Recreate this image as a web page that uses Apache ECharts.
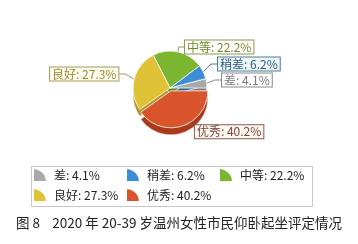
<!DOCTYPE html>
<html><head><meta charset="utf-8">
<script src="https://cdn.jsdelivr.net/npm/echarts@6/dist/echarts.min.js"></script>
<style>html,body{margin:0;padding:0;background:#fff}#c{width:358px;height:244px}</style>
</head><body><div id="c"></div>
<script>
const categories = ['差', '稍差', '中等', '良好', '优秀'];
const values = [4.1, 6.2, 22.2, 27.3, 40.2];
const colors = ['#a9a9a9', '#3b8ed6', '#7cb630', '#e0c236', '#d9532b'];
const sideColors = ['#7d7d7d', '#2a679e', '#5a8a1f', '#b39623', '#a83a1b'];
const labelText = ['#7a7a7a', '#2b5d80', '#6f8a2a', '#9a8a2e', '#7a4535'];
const labelBorder = ['#8a8a8a', '#4a7c96', '#8a9a4a', '#a89a5a', '#8a5a4a'];
const labelBg = ['#ffffff', '#eef6fa', '#ffffff', '#fffdf0', '#fff8f4'];
const titleText = '图 8    2020 年 20-39 岁温州女性市民仰卧起坐评定情况';

const labelPos = [[222, 80], [218, 64], [185, 47], [50, 74], [192, 122]];
// legend columns (category names per column)
const legendCols = [['差', '良好'], ['稍差', '优秀'], ['中等']];
const legendLeft = [32, 125, 218];

const chart = echarts.init(document.getElementById('c'), null, {renderer: 'canvas'});
const font = '"Noto Sans CJK SC", "Noto Sans", sans-serif';

const topData = categories.map((n, i) => ({
  name: n, value: values[i], selected: i === 4,
  itemStyle: {color: colors[i]},
  label: {color: labelText[i], borderColor: labelBorder[i], backgroundColor: labelBg[i]},
  labelLine: {lineStyle: {color: labelBorder[i]}}
}));
const sideData = categories.map((n, i) => ({name: n, value: values[i], selected: i === 4, itemStyle: {color: sideColors[i]}}));

const legends = legendCols.map((col, k) => ({
  data: col,
  left: legendLeft[k], top: 167,
  orient: 'vertical',
  itemWidth: 18, itemHeight: 14, itemGap: 4,
  padding: 0,
  icon: 'path://M0,20 L0,0 A20,20 0 0 1 20,20 Z',
  formatter: function (name) {
    const i = categories.indexOf(name);
    return name + ': ' + values[i].toFixed(1) + '%';
  },
  textStyle: {fontSize: 12, color: '#222', fontFamily: font}
}));

chart.setOption({
  backgroundColor: '#ffffff',
  animation: false,
  title: {
    text: titleText, left: 'center', top: 211,
    textStyle: {fontSize: 13.5, fontWeight: 'normal', color: '#222', fontFamily: font}
  },
  legend: legends,
  graphic: [{
    type: 'rect', left: 29, top: 164, z: -1,
    shape: {width: 281, height: 40},
    style: {fill: 'none', stroke: '#c8c8c8', lineWidth: 1}
  }],
  series: [
    {
      type: 'pie', name: 'top', z: 3,
      center: [170, 88], radius: [0, 37],
      startAngle: 0, clockwise: false,
      selectedMode: 'multiple', selectedOffset: 3,
      itemStyle: {borderColor: '#ffffff', borderWidth: 0.8},
      label: {
        show: true, fontSize: 12, fontFamily: font,
        formatter: p => p.name + ': ' + p.value.toFixed(1) + '%',
        borderWidth: 1, padding: [1, 2, 0, 2]
      },
      labelLine: {show: true, length: 6, length2: 6, lineStyle: {width: 1}},
      labelLayout: function (params) {
        const p = labelPos[params.dataIndex];
        return {x: p[0], y: p[1], align: 'left', verticalAlign: 'middle'};
      },
      data: topData
    },
    {
      type: 'pie', name: 'side', silent: true, z: 1,
      center: [170, 95], radius: [0, 37],
      startAngle: 0, clockwise: false,
      selectedMode: 'multiple', selectedOffset: 3,
      label: {show: false}, labelLine: {show: false},
      legendHoverLink: false,
      itemStyle: {borderColor: '#ffffff', borderWidth: 0.5},
      data: sideData
    }
  ]
});
</script></body></html>
